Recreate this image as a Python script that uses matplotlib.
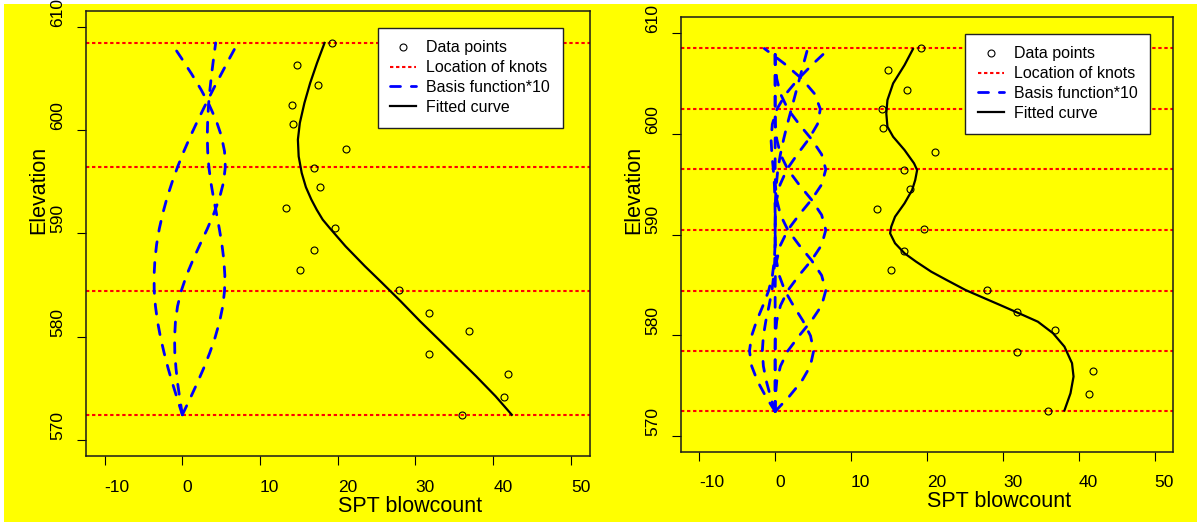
import matplotlib
matplotlib.use("Agg")
import matplotlib.pyplot as plt
import matplotlib.transforms as mtransforms
from matplotlib.lines import Line2D
from matplotlib.patches import Rectangle

plt.rcParams['font.family'] = ['Liberation Sans', 'DejaVu Sans']

# SPT observations along the boring
elevation = [608.5, 606.4, 604.4, 602.5, 600.6, 598.2, 596.4, 594.5, 592.5, 590.5,
             588.4, 586.5, 584.5, 582.3, 580.5, 578.3, 576.4, 574.1, 572.4]
spt = [19.2, 14.8, 17.4, 14.1, 14.2, 21.1, 17.0, 17.7, 13.4, 19.6,
       17.0, 15.2, 27.9, 31.8, 36.9, 31.8, 41.9, 41.4, 36.0]

# knot locations for the two fits
knots_3df = [572.4, 584.43, 596.47, 608.5]
knots_6df = [572.4, 578.42, 584.43, 590.45, 596.47, 602.48, 608.5]

# elevations at which the basis functions are tabulated
grid_elev = [572.40, 573.90, 575.41, 576.91, 578.42, 579.92, 581.43, 582.93, 584.43,
             585.94, 587.44, 588.95, 590.45, 591.95, 593.46, 594.96, 596.47, 597.97,
             599.48, 600.98, 602.48, 603.99, 605.49, 607.00, 608.50]

# natural spline basis (x10), 3 df
ns3_b1 = [0, -0.31, -0.60, -0.82, -0.97, -1.00, -0.89, -0.62, -0.14, 0.54, 1.37, 2.28,
          3.21, 4.06, 4.78, 5.30, 5.53, 5.43, 5.02, 4.35, 3.46, 2.39, 1.19, -0.10, -1.43]
ns3_b2 = [0, 0.95, 1.87, 2.74, 3.53, 4.22, 4.79, 5.20, 5.43, 5.47, 5.34, 5.09,
          4.76, 4.39, 4.01, 3.67, 3.41, 3.26, 3.21, 3.26, 3.37, 3.55, 3.77, 4.02, 4.29]
ns3_b3 = [0, -0.63, -1.25, -1.83, -2.35, -2.81, -3.19, -3.46, -3.62, -3.64, -3.53, -3.31,
          -2.97, -2.52, -1.97, -1.33, -0.61, 0.19, 1.06, 1.99, 2.96, 3.97, 5.01, 6.07, 7.14]

# natural spline basis (x10), 6 df
ns6_b1 = [0, 0.03, 0.21, 0.70, 1.67, 3.15, 4.79, 6.12, 6.67, 6.12, 4.79, 3.15,
          1.67, 0.70, 0.21, 0.03, 0, 0, 0, 0, 0, 0, 0, 0, 0]
ns6_b2 = [0, 0, 0, 0, 0, 0.03, 0.21, 0.70, 1.67, 3.15, 4.79, 6.12,
          6.67, 6.12, 4.79, 3.15, 1.67, 0.70, 0.21, 0.03, 0, 0, 0, 0, 0]
ns6_b3 = [0, 0, 0, 0, 0, 0, 0, 0, 0, 0.03, 0.21, 0.70,
          1.67, 3.15, 4.79, 6.12, 6.67, 6.12, 4.79, 3.15, 1.67, 0.70, 0.21, 0.03, 0]
ns6_b4 = [0, -0.62, -1.16, -1.55, -1.69, -1.55, -1.22, -0.80, -0.42, -0.18, -0.05, -0.01,
          0, 0.02, 0.19, 0.65, 1.55, 2.92, 4.42, 5.58, 5.95, 5.20, 3.51, 1.20, -1.43]
ns6_b5 = [0, 1.86, 3.49, 4.63, 5.07, 4.66, 3.65, 2.40, 1.27, 0.53, 0.16, 0.02,
          0, 0.01, 0.04, 0.15, 0.36, 0.69, 1.12, 1.61, 2.14, 2.68, 3.21, 3.75, 4.29]
ns6_b6 = [0, -1.24, -2.32, -3.09, -3.38, -3.10, -2.43, -1.60, -0.85, -0.36, -0.11, -0.01,
          0, 0, -0.03, -0.10, -0.24, -0.43, -0.54, -0.37, 0.24, 1.42, 3.07, 5.03, 7.14]

# fitted curves
fit3_elev = [608.5, 606.55, 604.61, 602.67, 600.73, 599.11, 597.49, 595.88, 594.5,
             593.3, 592.3, 591.35, 590.5, 588.76, 586.82, 585.21, 583.42, 581.48,
             579.71, 577.93, 576.15, 574.21, 572.4]
fit3_spt = [18.3, 17.33, 16.45, 15.71, 15.12, 14.87, 14.97, 15.36, 15.9,
            16.6, 17.3, 18.06, 19.0, 21.0, 23.5, 25.7, 28.1, 30.6,
            33.0, 35.4, 37.8, 40.3, 42.4]
fit6_elev = [608.44, 606.85, 605.03, 603.37, 602.05, 600.72, 599.72, 598.40, 597.08,
             596.41, 595.42, 594.42, 593.10, 591.77, 590.78, 590.12, 589.13, 588.13,
             587.30, 586.30, 585.48, 584.48, 583.82, 583.0, 582.17, 581.33, 580.18,
             578.85, 577.2, 575.87, 574.21, 572.5]
fit6_spt = [18.15, 17.04, 15.54, 14.79, 14.64, 14.79, 15.54, 17.04, 18.29,
            18.70, 18.45, 18.04, 17.04, 15.79, 15.29, 15.14, 15.79, 17.04,
            18.56, 20.56, 22.57, 25.07, 27.08, 29.59, 32.1, 34.6, 36.6,
            38.1, 39.1, 39.3, 38.9, 38.1]

xticks = [-10, 0, 10, 20, 30, 40, 50]
yticks = [570, 580, 590, 600, 610]

YELLOW = '#ffff00'
W, H = 1197, 522
fig = plt.figure(figsize=(W / 100, H / 100), dpi=100, facecolor=YELLOW)

# thin white margin along the top and left edges
fig.patches.append(Rectangle((0, 1 - 4 / H), 1, 4 / H, transform=fig.transFigure,
                             facecolor='white', edgecolor='none', zorder=-1))
fig.patches.append(Rectangle((0, 0), 4 / W, 1, transform=fig.transFigure,
                             facecolor='white', edgecolor='none', zorder=-1))


def px_axes(x0, y0, x1, y1):
    return fig.add_axes([x0 / W, 1 - y1 / H, (x1 - x0) / W, (y1 - y0) / H])


def decorate(ax, legend_xy):
    ax.set_facecolor(YELLOW)
    ax.set_xlim(-12.4, 52.4)
    ax.set_ylim(568.4, 611.6)
    ax.set_xticks(xticks, labels=[str(v) for v in xticks])
    ax.set_yticks(yticks, labels=[str(v) for v in yticks])
    ax.tick_params(direction='out', length=6.5, width=0.8, labelsize=12.5,
                   colors='black')
    ax.tick_params(axis='x', pad=10.5)
    ax.tick_params(axis='y', pad=14)
    for lab in ax.get_xticklabels():
        lab.set_ha('left')
    for lab in ax.get_yticklabels():
        lab.set_rotation(90)
        lab.set_va('bottom')
        lab.set_ha('center')
    for sp in ax.spines.values():
        sp.set_linewidth(1.1)
        sp.set_color('#1a1a1a')

    off_x = mtransforms.offset_copy(ax.transAxes, fig=fig, x=0, y=-55.5 * 0.72, units='points')
    ax.text(0.5, 0, 'SPT blowcount', transform=off_x, ha='left', va='baseline',
            fontsize=15.5)
    off_y = mtransforms.offset_copy(ax.transAxes, fig=fig, x=-41.5 * 0.72, y=0, units='points')
    ax.text(0, 0.5, 'Elevation', transform=off_y, ha='left', va='baseline',
            rotation=90, rotation_mode='anchor', fontsize=15.5)

    handles = [
        Line2D([], [], ls='none', marker='o', mfc='none', mec='black', ms=5, mew=0.8),
        Line2D([], [], color='red', lw=1.5, dashes=(1.6, 1.3)),
        Line2D([], [], color='blue', lw=2.0, dashes=(3.6, 3.9), dash_capstyle='round'),
        Line2D([], [], color='black', lw=1.6),
    ]
    labels = ['Data points', 'Location of knots', 'Basis function*10', 'Fitted curve']
    leg = ax.legend(handles, labels, loc='upper left',
                    bbox_to_anchor=(legend_xy[0] / W, 1 - legend_xy[1] / H),
                    bbox_transform=fig.transFigure, borderaxespad=0,
                    fontsize=11.5, frameon=True, fancybox=False, edgecolor='#222222',
                    framealpha=1, borderpad=0.8, labelspacing=0.3,
                    handlelength=1.6, handletextpad=0.65)
    leg.get_frame().set_linewidth(1.0)
    leg.set_zorder(10)


def draw_panel(ax, knots, bases, fit_e, fit_s):
    for k in knots:
        ax.axhline(k, color='red', lw=1.5, dashes=(1.6, 1.3), zorder=2)
    for b in bases:
        ax.plot(b, grid_elev, color='blue', lw=2.0, dashes=(3.6, 3.9),
                dash_capstyle='round', zorder=3)
    ax.plot(fit_s, fit_e, color='black', lw=1.6, zorder=4)
    ax.plot(spt, elevation, ls='none', marker='o', mfc='none', mec='black',
            ms=5, mew=0.8, zorder=5)


ax1 = px_axes(86, 11, 589.5, 456)
draw_panel(ax1, knots_3df, [ns3_b1, ns3_b2, ns3_b3], fit3_elev, fit3_spt)
decorate(ax1, (377.5, 27.7))

ax2 = px_axes(681, 17.3, 1173, 451.7)
draw_panel(ax2, knots_6df, [ns6_b1, ns6_b2, ns6_b3, ns6_b4, ns6_b5, ns6_b6],
           fit6_elev, fit6_spt)
decorate(ax2, (965.2, 33.7))

fig.savefig('out.png', dpi=100, facecolor=YELLOW)
